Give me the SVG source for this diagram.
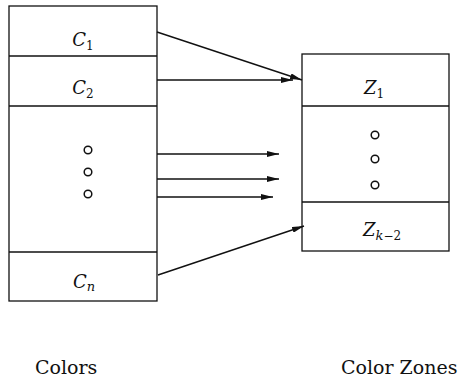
<svg xmlns="http://www.w3.org/2000/svg" width="460" height="381" viewBox="0 0 460 381">
<style>
.box{fill:#fff;stroke:#111;stroke-width:1.3}
.ln{stroke:#111;stroke-width:1.3;fill:none}
.lab{font-family:'DejaVu Serif','Liberation Serif',serif;font-style:italic;font-size:18px;fill:#111;text-anchor:middle}
.sub{font-size:12px;font-style:normal}
.subi{font-size:13px}
.dot{fill:none;stroke:#111;stroke-width:1.5}
.cap{font-family:'DejaVu Serif','Liberation Serif',serif;font-size:19px;fill:#111}
.arr{stroke:#111;stroke-width:1.4;fill:none;marker-end:url(#ah)}
</style>
<defs>
<marker id="ah" viewBox="0 0 12 6" refX="12" refY="3" markerWidth="12" markerHeight="6" markerUnits="userSpaceOnUse" orient="auto">
<path d="M0,0 L12,3 L0,6 Z" fill="#111"/>
</marker>
</defs>
<g id="colors">
<rect class="box" x="9" y="6" width="148" height="295"/>
<line class="ln" x1="9" y1="56" x2="157" y2="56"/>
<line class="ln" x1="9" y1="106" x2="157" y2="106"/>
<line class="ln" x1="9" y1="252" x2="157" y2="252"/>
<text class="lab" x="83" y="46">C<tspan class="sub" dy="4">1</tspan></text>
<text class="lab" x="83" y="94">C<tspan class="sub" dy="4">2</tspan></text>
<circle class="dot" cx="88" cy="150" r="3.8"/>
<circle class="dot" cx="88" cy="172" r="3.8"/>
<circle class="dot" cx="88" cy="194" r="3.8"/>
<text class="lab" x="84" y="288">C<tspan class="subi" dy="3">n</tspan></text>
<text class="cap" x="35" y="374">Colors</text>
</g>
<g id="zones">
<rect class="box" x="302" y="54" width="147" height="197"/>
<line class="ln" x1="302" y1="106" x2="449" y2="106"/>
<line class="ln" x1="302" y1="202" x2="449" y2="202"/>
<text class="lab" x="374" y="94">Z<tspan class="sub" dy="4">1</tspan></text>
<circle class="dot" cx="375" cy="135" r="3.8"/>
<circle class="dot" cx="375" cy="159" r="3.8"/>
<circle class="dot" cx="375" cy="185" r="3.8"/>
<text class="lab" x="363" y="236" style="text-anchor:start">Z<tspan class="subi" dy="4">k</tspan><tspan class="sub" font-size="13">−2</tspan></text>
<text class="cap" x="341" y="374">Color Zones</text>
</g>
<g id="connectors">
<line class="arr" x1="157" y1="32" x2="302" y2="80"/>
<line class="arr" x1="157" y1="80" x2="293" y2="80"/>
<line class="arr" x1="157" y1="154" x2="279" y2="154"/>
<line class="arr" x1="157" y1="179" x2="279" y2="179"/>
<line class="arr" x1="157" y1="197" x2="273" y2="197"/>
<line class="arr" x1="158" y1="275" x2="304" y2="226"/>
</g>
</svg>
